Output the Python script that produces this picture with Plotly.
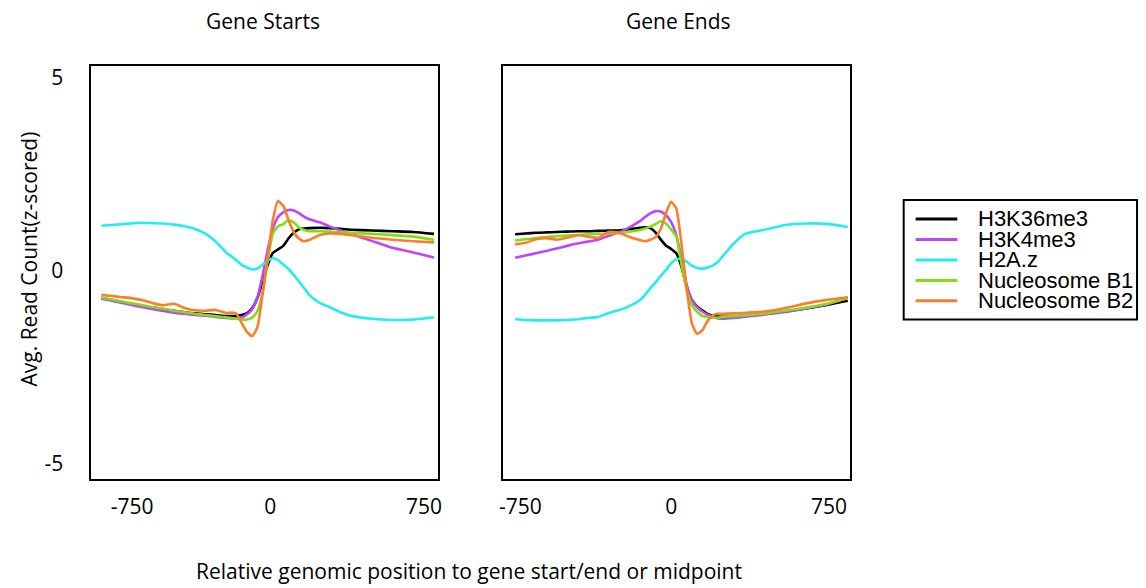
import plotly.graph_objects as go

# ---------------- data ----------------
POSITION = [-800, -750, -700, -650, -600, -550, -500, -450, -400, -350,
            -300, -250, -200, -175, -150, -125, -100, -75, -50, -25,
            0, 25, 50, 75, 100, 125, 150, 175, 200, 250,
            300, 350, 400, 500, 600, 700, 800]

SERIES = ["H3K36me3", "H3K4me3", "H2A.z", "Nucleosome B1", "Nucleosome B2"]
COLORS = ["#000000", "#c044fa", "#22eef2", "#7ee010", "#fc7e2c"]

# Gene starts
START_H3K36ME3 = [-0.71, -0.76, -0.82, -0.87, -0.92, -0.96, -1.00, -1.04, -1.08, -1.11,
                  -1.13, -1.15, -1.18, -1.18, -1.17, -1.15, -1.11, -0.98, -0.72, -0.30,
                  0.14, 0.46, 0.55, 0.64, 0.83, 0.98, 1.07, 1.09, 1.10, 1.11,
                  1.10, 1.08, 1.06, 1.04, 1.02, 1.00, 0.95]
START_H3K4ME3 = [-0.73, -0.78, -0.84, -0.90, -0.95, -1.00, -1.05, -1.09, -1.12, -1.15,
                 -1.17, -1.20, -1.23, -1.24, -1.24, -1.22, -1.14, -1.00, -0.72, -0.14,
                 0.53, 1.09, 1.39, 1.51, 1.57, 1.56, 1.49, 1.40, 1.33, 1.25,
                 1.14, 1.04, 0.95, 0.77, 0.59, 0.47, 0.34]
START_H2AZ = [1.16, 1.18, 1.20, 1.23, 1.24, 1.23, 1.22, 1.19, 1.15, 1.08,
              0.96, 0.75, 0.47, 0.37, 0.26, 0.15, 0.08, 0.03, 0.05, 0.15,
              0.26, 0.32, 0.27, 0.16, 0.04, -0.11, -0.28, -0.45, -0.63, -0.84,
              -0.95, -1.08, -1.17, -1.25, -1.28, -1.27, -1.21]
START_NUC_B1 = [-0.70, -0.75, -0.80, -0.85, -0.90, -0.95, -0.99, -1.04, -1.08, -1.12,
                -1.15, -1.18, -1.21, -1.23, -1.25, -1.27, -1.27, -1.22, -1.06, -0.58,
                0.27, 0.96, 1.15, 1.20, 1.31, 1.25, 1.12, 1.05, 1.02, 1.02,
                1.01, 0.99, 0.98, 0.95, 0.92, 0.88, 0.80]
START_NUC_B2 = [-0.63, -0.66, -0.69, -0.72, -0.77, -0.85, -0.90, -0.86, -0.97, -1.03,
                -1.04, -1.02, -1.10, -1.09, -1.12, -1.36, -1.59, -1.70, -1.48, -0.63,
                0.32, 1.31, 1.80, 1.68, 1.31, 1.00, 0.83, 0.76, 0.79, 0.92,
                0.96, 0.95, 0.92, 0.85, 0.80, 0.76, 0.73]

# Gene ends
END_H3K36ME3 = [0.94, 0.96, 0.98, 0.99, 1.00, 1.01, 1.02, 1.02, 1.03, 1.04,
                1.04, 1.07, 1.11, 1.12, 1.10, 0.99, 0.81, 0.65, 0.56, 0.45,
                0.10, -0.41, -0.76, -0.93, -1.03, -1.12, -1.17, -1.19, -1.20, -1.19,
                -1.17, -1.15, -1.12, -1.06, -0.98, -0.89, -0.78]
END_H3K4ME3 = [0.33, 0.39, 0.45, 0.51, 0.57, 0.64, 0.70, 0.75, 0.80, 0.90,
               0.99, 1.12, 1.28, 1.39, 1.48, 1.54, 1.53, 1.44, 1.26, 0.92,
               0.32, -0.37, -0.76, -0.95, -1.06, -1.14, -1.20, -1.24, -1.25, -1.23,
               -1.20, -1.17, -1.14, -1.07, -0.98, -0.88, -0.70]
END_H2AZ = [-1.26, -1.28, -1.29, -1.29, -1.29, -1.28, -1.26, -1.23, -1.20, -1.10,
            -1.02, -0.92, -0.77, -0.63, -0.46, -0.31, -0.14, 0.01, 0.19, 0.29,
            0.30, 0.23, 0.13, 0.07, 0.05, 0.08, 0.13, 0.22, 0.38, 0.69,
            0.93, 1.01, 1.06, 1.18, 1.22, 1.21, 1.13]
END_NUC_B1 = [0.78, 0.81, 0.84, 0.87, 0.89, 0.91, 0.92, 0.94, 0.95, 0.96,
              0.97, 1.01, 1.05, 1.09, 1.14, 1.20, 1.28, 1.22, 1.07, 0.88,
              0.15, -0.50, -0.89, -1.06, -1.17, -1.20, -1.22, -1.22, -1.20, -1.18,
              -1.16, -1.14, -1.11, -1.04, -0.96, -0.86, -0.72]
END_NUC_B2 = [0.68, 0.72, 0.81, 0.84, 0.80, 0.85, 0.92, 0.88, 0.85, 1.00,
              0.98, 0.87, 0.79, 0.76, 0.80, 0.86, 1.07, 1.48, 1.78, 1.61,
              0.70, -0.46, -1.36, -1.64, -1.55, -1.31, -1.16, -1.12, -1.12, -1.11,
              -1.10, -1.08, -1.06, -0.97, -0.85, -0.76, -0.69]

START_SERIES = [START_H3K36ME3, START_H3K4ME3, START_H2AZ, START_NUC_B1, START_NUC_B2]
END_SERIES = [END_H3K36ME3, END_H3K4ME3, END_H2AZ, END_NUC_B1, END_NUC_B2]

PANEL_TITLES = ["Gene Starts", "Gene Ends"]
X_TICK_TEXT = ["-750", "0", "750"]
Y_TICK_VALUES = [-5, 0, 5]
Y_TICK_TEXT = ["-5", "0", "5"]
X_TITLE = "Relative genomic position to gene start/end or midpoint"
Y_TITLE = "Avg. Read Count(z-scored)"

# ---------------- figure ----------------
W, H = 1146, 588


def fx(p):
    return p / W


def fy(p):
    return 1 - p / H


fig = go.Figure()
for axes, series_list in ((("x", "y"), START_SERIES), (("x2", "y2"), END_SERIES)):
    for name, color, ys in zip(SERIES, COLORS, series_list):
        fig.add_trace(go.Scatter(
            x=POSITION, y=ys, name=name, mode="lines",
            xaxis=axes[0], yaxis=axes[1], showlegend=False,
            line=dict(color=color, width=2.6, shape="spline", smoothing=0.5),
            hoverinfo="skip"))

TICK_FONT = dict(family="Open Sans", size=21, color="#000000")
box = dict(showline=True, mirror=True, linecolor="#000000", linewidth=2,
           showgrid=False, zeroline=False, ticks="")

fig.update_layout(
    width=W, height=H,
    margin=dict(l=0, r=0, t=0, b=0),
    paper_bgcolor="#ffffff", plot_bgcolor="#ffffff",
    showlegend=False,
    xaxis=dict(domain=[fx(88), fx(437)], range=[-848, 819], anchor="y",
               tickmode="array", tickvals=[-652, 12, 752], ticktext=X_TICK_TEXT,
               tickfont=TICK_FONT, ticklabelstandoff=8, **box),
    yaxis=dict(domain=[fy(478), fy(63)], range=[-5.39, 5.31], anchor="x",
               tickmode="array", tickvals=Y_TICK_VALUES, ticktext=Y_TICK_TEXT,
               tickfont=TICK_FONT, ticklabelstandoff=22, **box),
    xaxis2=dict(domain=[fx(503), fx(852)], range=[-856, 811], anchor="y2",
                tickmode="array", tickvals=[-775, -49, 710], ticktext=X_TICK_TEXT,
                tickfont=TICK_FONT, ticklabelstandoff=8, **box),
    yaxis2=dict(domain=[fy(478), fy(63)], range=[-5.39, 5.31], anchor="x2",
                showticklabels=False, **box),
)

TEXT_FONT = dict(family="Open Sans", size=21, color="#000000")
annotations = [
    dict(text=PANEL_TITLES[0], x=fx(261), y=fy(18), xref="paper", yref="paper",
         showarrow=False, font=TEXT_FONT, xanchor="center", yanchor="middle"),
    dict(text=PANEL_TITLES[1], x=fx(679), y=fy(18), xref="paper", yref="paper",
         showarrow=False, font=TEXT_FONT, xanchor="center", yanchor="middle"),
    dict(text=X_TITLE, x=fx(468), y=fy(571), xref="paper", yref="paper",
         showarrow=False, font=TEXT_FONT, xanchor="center", yanchor="middle"),
    dict(text=Y_TITLE, x=fx(25), y=fy(257), xref="paper", yref="paper",
         showarrow=False, font=TEXT_FONT, textangle=-90,
         xanchor="center", yanchor="middle"),
]

# manual legend box (drawn from the series names and colours)
shapes = [dict(type="rect", xref="paper", yref="paper",
               x0=fx(906), x1=fx(1141), y0=fy(198), y1=fy(318),
               line=dict(color="#000000", width=2), fillcolor="rgba(0,0,0,0)")]
LEG_FONT = dict(family="Liberation Sans", size=22, color="#000000")
for i, (name, color) in enumerate(zip(SERIES, COLORS)):
    yy = 217 + i * 20.6
    shapes.append(dict(type="line", xref="paper", yref="paper",
                       x0=fx(918), x1=fx(960), y0=fy(yy), y1=fy(yy),
                       line=dict(color=color, width=3)))
    annotations.append(dict(text=name, x=fx(979), y=fy(yy), xref="paper",
                            yref="paper", showarrow=False, font=LEG_FONT,
                            xanchor="left", yanchor="middle"))

fig.update_layout(annotations=annotations, shapes=shapes)
fig.write_html("out.html")
